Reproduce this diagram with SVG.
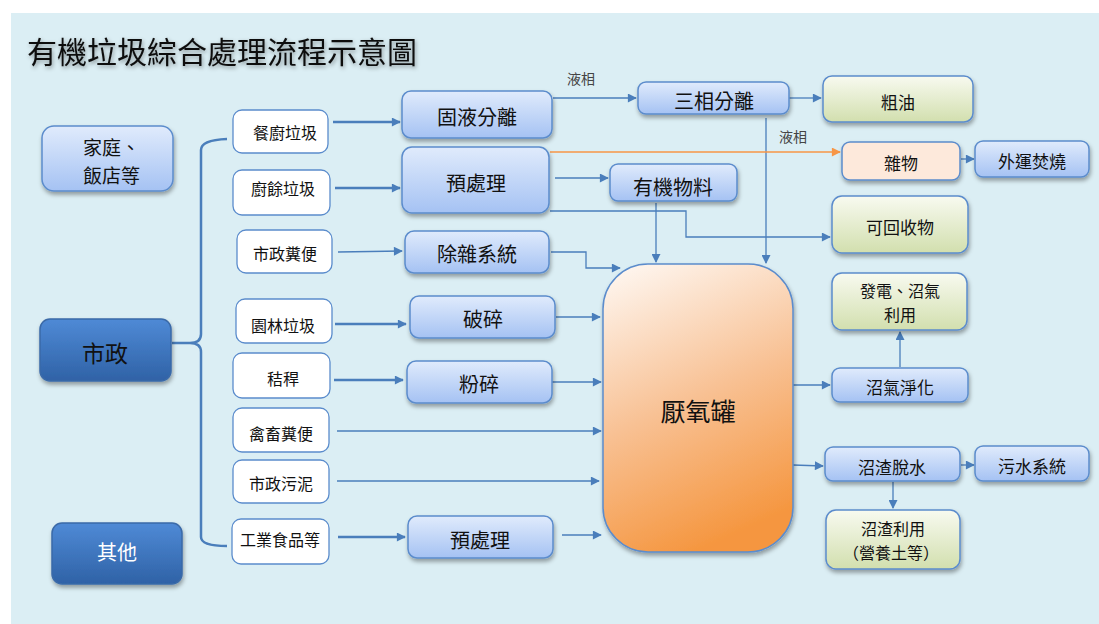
<svg xmlns="http://www.w3.org/2000/svg" width="1099" height="624" viewBox="0 0 1099 624">
<defs>
<linearGradient id="gBlue" x1="0" y1="0" x2="0" y2="1"><stop offset="0" stop-color="#e0ebfc"/><stop offset="1" stop-color="#a5c2f3"/></linearGradient>
<linearGradient id="gGreen" x1="0" y1="0" x2="0" y2="1"><stop offset="0" stop-color="#f8faf0"/><stop offset="1" stop-color="#d2dfae"/></linearGradient>
<linearGradient id="gDark" x1="0" y1="0" x2="0" y2="1"><stop offset="0" stop-color="#4f8ad6"/><stop offset="1" stop-color="#2f62a6"/></linearGradient>
<linearGradient id="gTank" x1="0.2" y1="0" x2="0.5" y2="1"><stop offset="0" stop-color="#fef4ec"/><stop offset="0.5" stop-color="#f8c194"/><stop offset="1" stop-color="#f5963f"/></linearGradient>
<filter id="sh" x="-20%" y="-20%" width="140%" height="150%"><feDropShadow dx="1" dy="3" stdDeviation="2" flood-color="#000" flood-opacity="0.35"/></filter>
<filter id="tsh" x="-5%" y="-20%" width="110%" height="160%"><feDropShadow dx="1" dy="2" stdDeviation="2" flood-color="#000" flood-opacity="0.4"/></filter>
<marker id="abs" viewBox="0 0 10 10" refX="9" refY="5" markerWidth="10" markerHeight="9" orient="auto" markerUnits="userSpaceOnUse"><path d="M0,0 L10,5 L0,10 z" fill="#4a7ebb"/></marker>
<marker id="ao" viewBox="0 0 10 10" refX="9" refY="5" markerWidth="10" markerHeight="9" orient="auto" markerUnits="userSpaceOnUse"><path d="M0,0 L10,5 L0,10 z" fill="#f79646"/></marker>
<style>
text{font-family:"Noto Sans CJK TC","Noto Sans CJK SC",sans-serif;fill:#111;text-anchor:middle;dominant-baseline:central}
.blue{fill:url(#gBlue);stroke:#5b8ccc;stroke-width:1.5;filter:url(#sh)}
.green{fill:url(#gGreen);stroke:#5b8ccc;stroke-width:1.5;filter:url(#sh)}
.peach{fill:#fde9db;stroke:#5b8ccc;stroke-width:1.5;filter:url(#sh)}
.dark{fill:url(#gDark);stroke:#3a6aa8;stroke-width:1.5;filter:url(#sh)}
.white{fill:#fff;stroke:#5b8ccc;stroke-width:1.3}
.tank{fill:url(#gTank);stroke:#5b8ccc;stroke-width:1.5;filter:url(#sh)}
.t20{font-size:20px}
.t17{font-size:17px}
.t16{font-size:16px}
.c{fill:none;stroke:#4a7ebb;stroke-width:1.3;marker-end:url(#abs)}
.ct{fill:none;stroke:#4a7ebb;stroke-width:2.5;marker-end:url(#abs)}
.lbl{font-size:14px;fill:#444}
</style>
</defs>
<rect x="0" y="0" width="1099" height="624" fill="#fff"/>
<rect x="11" y="13" width="1088" height="611" fill="#dbeef4"/>
<text x="27" y="50" style="font-size:30px;text-anchor:start;filter:url(#tsh)">有機垃圾綜合處理流程示意圖</text>

<g id="connectors">
<path d="M227,139 Q201,140 201,150 L201,334 Q201,343 190,343 L172,343 M190,343 Q201,343 201,352 L201,537 Q201,546 227,546" fill="none" stroke="#4a7ebb" stroke-width="2.5"/>
<path class="ct" d="M333,122 L400,122"/>
<path class="ct" d="M335,188 L400,188"/>
<path class="c" d="M338,252 L402,251"/>
<path class="ct" d="M335,324 L406,324"/>
<path class="ct" d="M334,380 L403,380"/>
<path class="c" d="M337,431 L601,431"/>
<path class="c" d="M337,481 L599,481"/>
<path class="ct" d="M338,537 L405,537"/>
<path class="c" d="M553,98 L636,98"/>
<path class="c" d="M789,98 L821,98"/>
<path class="c" d="M766,118 L766,263"/>
<path d="M550,152 L840,152" fill="none" stroke="#f79646" stroke-width="1.5" marker-end="url(#ao)"/>
<path class="c" d="M555,178 L608,178"/>
<path class="c" d="M550,211 L686,211 L686,237 L830,237"/>
<path class="c" d="M656,203 L656,262"/>
<path class="c" d="M551,252 L586,252 L586,268 L620,268"/>
<path class="c" d="M556,317 L600,317"/>
<path class="c" d="M552,382 L601,382"/>
<path class="c" d="M562,535 L601,535"/>
<path class="c" d="M961,159 L974,159"/>
<path class="c" d="M793,385 L830,385"/>
<path class="c" d="M900,367 L900,332"/>
<path class="c" d="M793,465 L823,466"/>
<path class="c" d="M961,465 L974,465"/>
<path class="c" d="M893,482 L893,508"/>
<text class="lbl" x="581" y="78">液相</text>
<text class="lbl" x="793" y="136">液相</text>
</g>

<g id="n-home"><rect class="blue" x="42" y="126" width="131" height="65" rx="12"/><text style="text-anchor:start;font-size:19px"><tspan x="83" y="146">家庭、</tspan><tspan x="83" y="174">飯店等</tspan></text></g>
<g id="n-muni"><rect class="dark" x="40" y="319" width="131" height="62" rx="10"/><text x="105" y="352" style="font-size:23px">市政</text></g>
<g id="n-other"><rect class="dark" x="52" y="523" width="130" height="61" rx="10"/><text x="117" y="551" style="font-size:20px;fill:#fff">其他</text></g>

<g id="s1"><rect class="white" x="233" y="110" width="95" height="43" rx="9"/><text class="t16" x="285" y="132">餐廚垃圾</text></g>
<g id="s2"><rect class="white" x="233" y="170" width="97" height="45" rx="9"/><text class="t16" x="283" y="188">廚餘垃圾</text></g>
<g id="s3"><rect class="white" x="237" y="230" width="95" height="43" rx="9"/><text class="t16" x="285" y="253">市政糞便</text></g>
<g id="s4"><rect class="white" x="236" y="299" width="96" height="44" rx="9"/><text class="t16" x="283" y="325">園林垃圾</text></g>
<g id="s5"><rect class="white" x="233" y="353" width="97" height="45" rx="9"/><text class="t16" x="283" y="378">秸稈</text></g>
<g id="s6"><rect class="white" x="233" y="408" width="96" height="44" rx="9"/><text class="t16" x="281" y="433">禽畜糞便</text></g>
<g id="s7"><rect class="white" x="233" y="460" width="96" height="43" rx="9"/><text class="t16" x="281" y="483">市政污泥</text></g>
<g id="s8"><rect class="white" x="232" y="519" width="97" height="45" rx="9"/><text class="t16" x="280" y="539">工業食品等</text></g>

<g id="p-sep"><rect class="blue" x="402" y="91" width="150" height="47" rx="9"/><text class="t20" x="477" y="116">固液分離</text></g>
<g id="p-pre1"><rect class="blue" x="402" y="147" width="147" height="66" rx="10"/><text class="t20" x="476" y="182">預處理</text></g>
<g id="p-clean"><rect class="blue" x="405" y="231" width="144" height="42" rx="9"/><text class="t20" x="477" y="253">除雜系統</text></g>
<g id="p-crush"><rect class="blue" x="410" y="296" width="145" height="42" rx="9"/><text class="t20" x="483" y="318">破碎</text></g>
<g id="p-grind"><rect class="blue" x="407" y="361" width="145" height="42" rx="9"/><text class="t20" x="479" y="383">粉碎</text></g>
<g id="p-pre2"><rect class="blue" x="408" y="516" width="145" height="42" rx="9"/><text class="t20" x="480" y="539">預處理</text></g>
<g id="p-three"><rect class="blue" x="638" y="82" width="151" height="32" rx="8"/><text class="t20" x="714" y="100">三相分離</text></g>
<g id="p-organic"><rect class="blue" x="610" y="164" width="127" height="37" rx="8"/><text class="t20" x="673" y="186">有機物料</text></g>
<g id="o-oil"><rect class="green" x="823" y="76" width="150" height="46" rx="9"/><text class="t17" x="898" y="101">粗油</text></g>
<g id="o-misc"><rect class="peach" x="842" y="142" width="118" height="38" rx="8"/><text class="t17" x="901" y="162">雜物</text></g>
<g id="o-burn"><rect class="blue" x="975" y="141" width="114" height="36" rx="8"/><text class="t17" x="1032" y="160">外運焚燒</text></g>
<g id="o-recycle"><rect class="green" x="832" y="196" width="136" height="57" rx="10"/><text class="t17" x="900" y="226">可回收物</text></g>
<g id="o-power"><rect class="green" x="832" y="273" width="135" height="57" rx="10"/><text style="font-size:16px"><tspan x="900" y="290">發電、沼氣</tspan><tspan x="900" y="314">利用</tspan></text></g>
<g id="p-gas"><rect class="blue" x="832" y="368" width="136" height="34" rx="8"/><text class="t17" x="900" y="386">沼氣淨化</text></g>
<g id="p-dewater"><rect class="blue" x="825" y="447" width="135" height="34" rx="8"/><text class="t17" x="892" y="466">沼渣脫水</text></g>
<g id="o-sewage"><rect class="blue" x="975" y="446" width="114" height="35" rx="8"/><text class="t17" x="1032" y="465">污水系統</text></g>
<g id="o-residue"><rect class="green" x="826" y="510" width="134" height="59" rx="10"/><text style="font-size:16px"><tspan x="893" y="528">沼渣利用</tspan><tspan x="891" y="552">（營養土等）</tspan></text></g>
<g id="tank"><rect class="tank" x="603" y="264" width="190" height="288" rx="45"/><text x="698" y="410" style="font-size:25px">厭氧罐</text></g>
</svg>
